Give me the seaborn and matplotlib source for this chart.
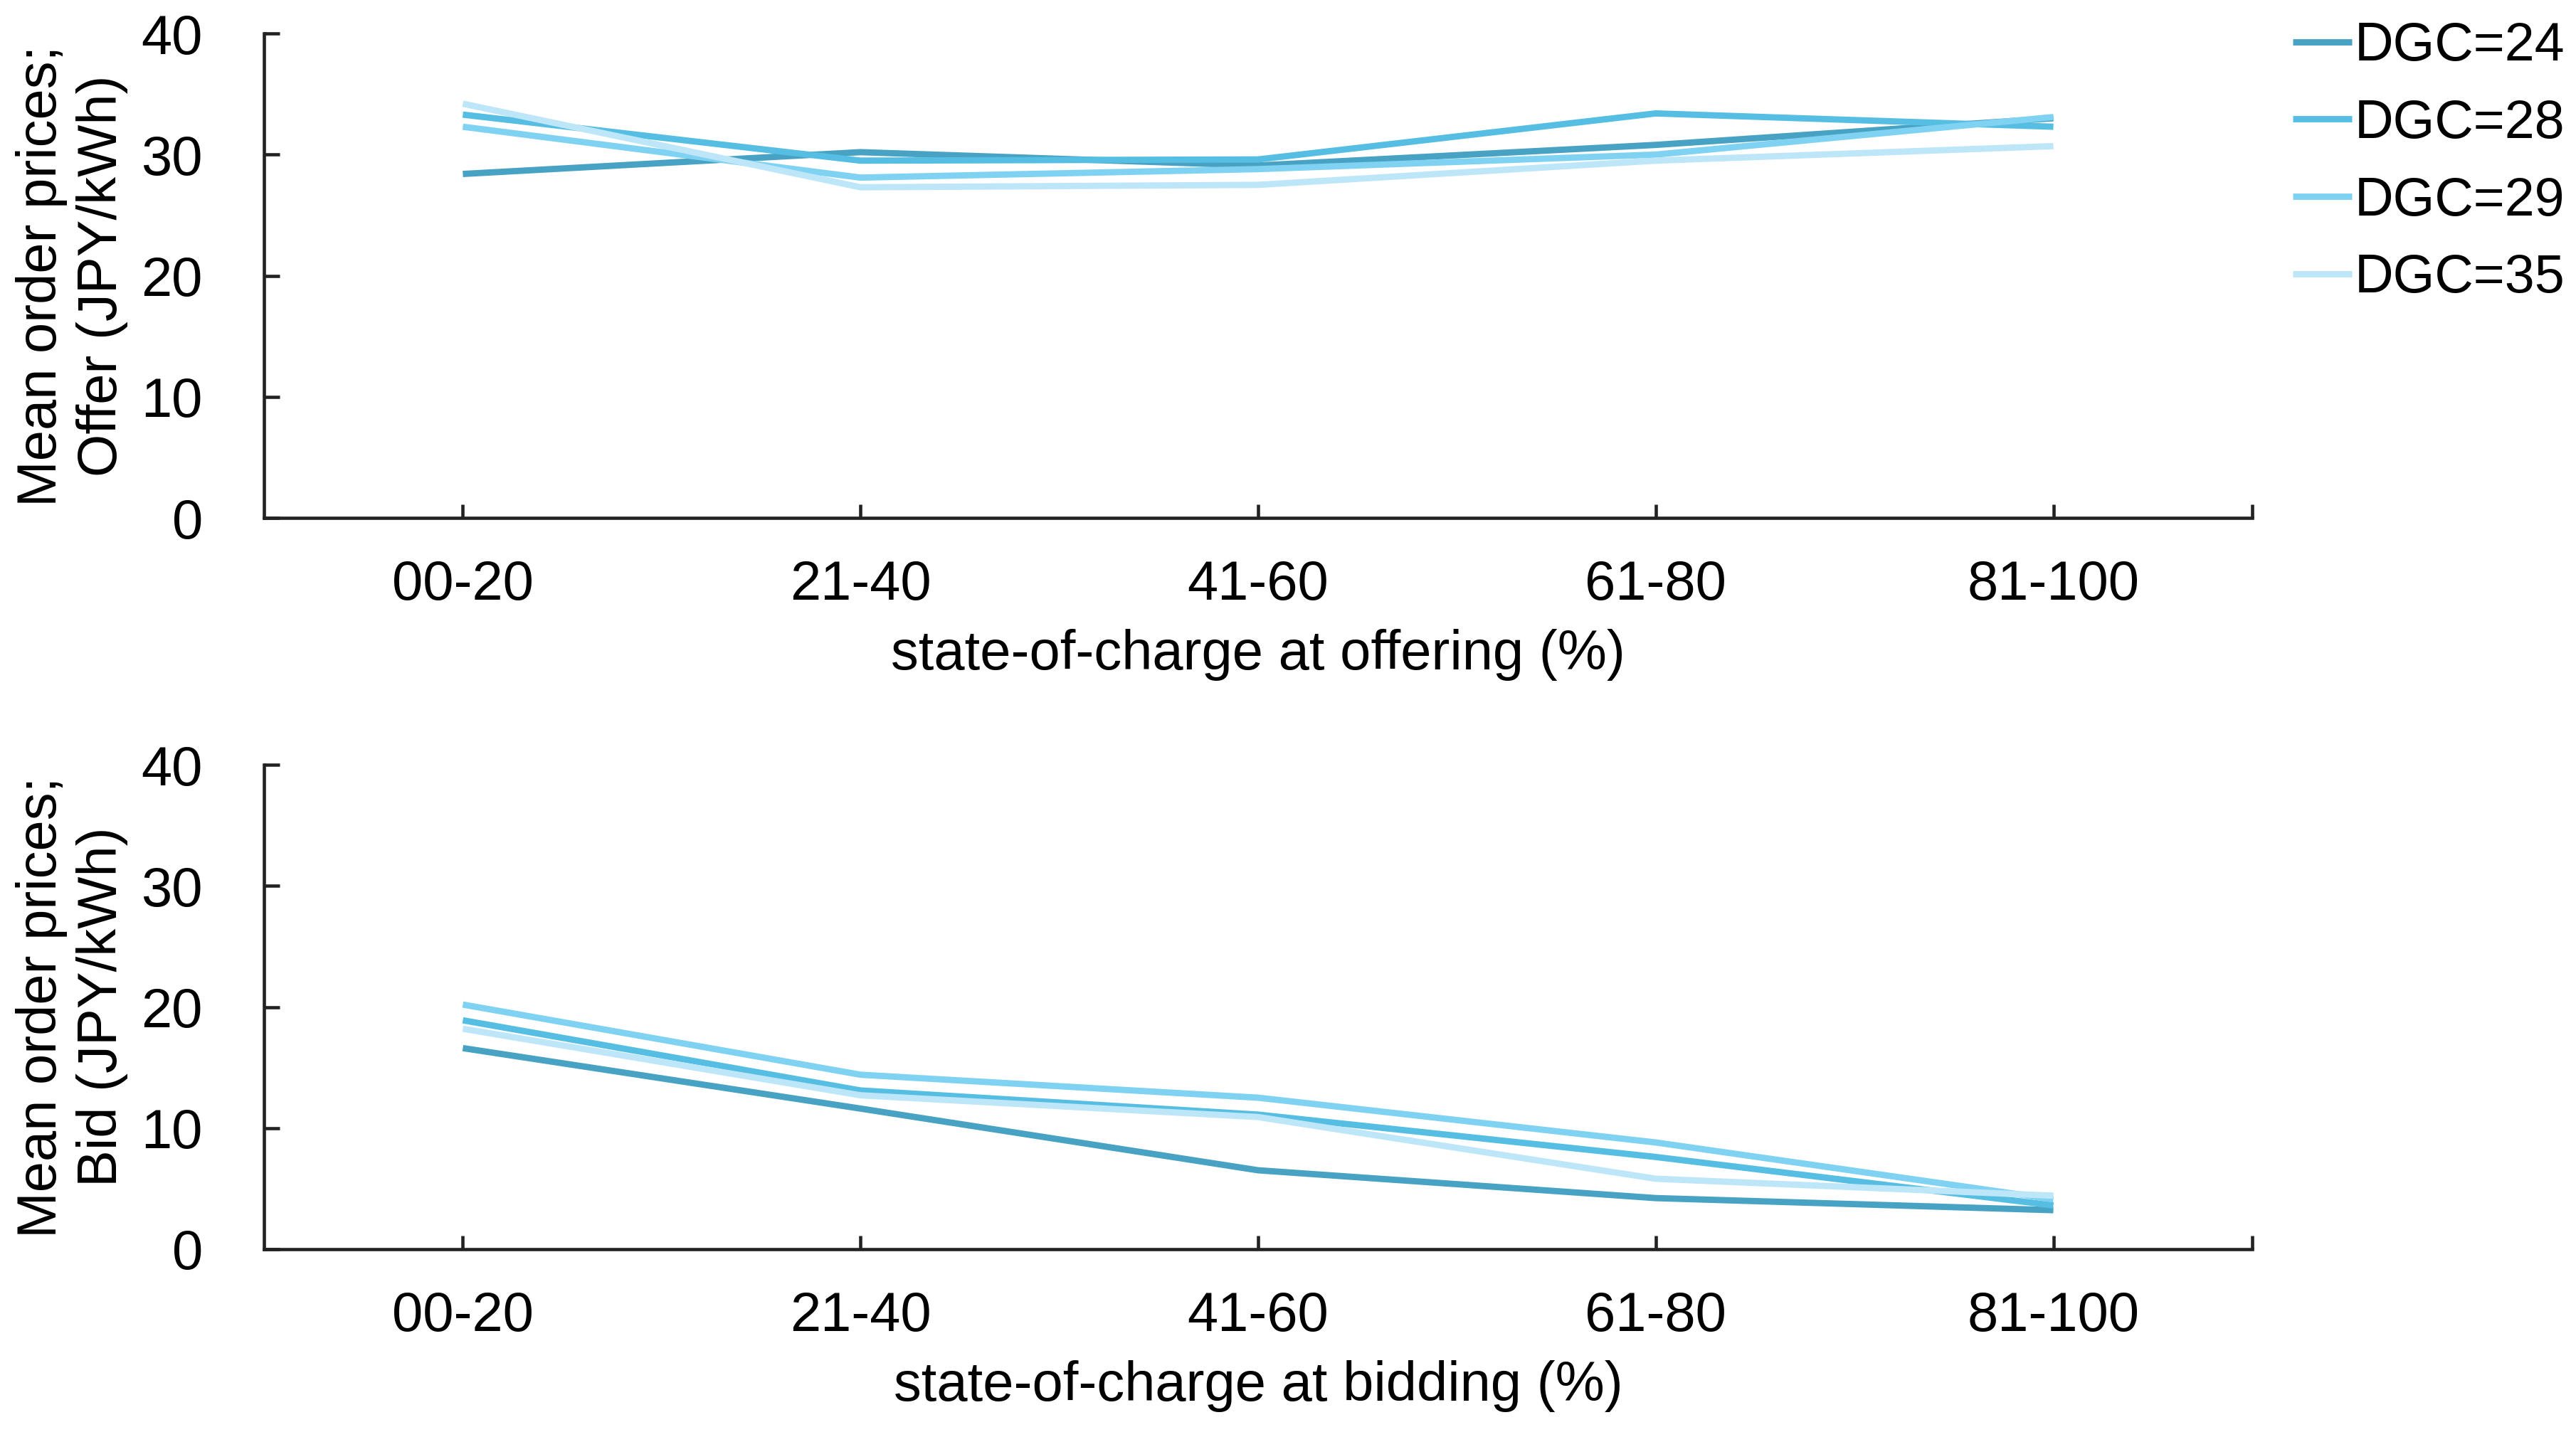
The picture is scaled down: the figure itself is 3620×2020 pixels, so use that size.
import matplotlib
matplotlib.use("Agg")
import matplotlib.pyplot as plt
import seaborn as sns
import pandas as pd

# ---- data ----
categories = ["00-20", "21-40", "41-60", "61-80", "81-100"]
series_names = ["DGC=24", "DGC=28", "DGC=29", "DGC=35"]
offer_dgc24 = [28.4, 30.2, 29.1, 30.8, 33.0]
offer_dgc28 = [33.3, 29.5, 29.6, 33.4, 32.3]
offer_dgc29 = [32.3, 28.1, 28.8, 30.0, 33.1]
offer_dgc35 = [34.2, 27.3, 27.5, 29.5, 30.7]
bid_dgc24 = [16.6, 11.6, 6.5, 4.2, 3.2]
bid_dgc28 = [18.9, 13.1, 11.1, 7.6, 3.6]
bid_dgc29 = [20.2, 14.4, 12.5, 8.8, 4.1]
bid_dgc35 = [18.2, 12.7, 10.9, 5.8, 4.4]
y_ticks = [0, 10, 20, 30, 40]
offer_xlabel = "state-of-charge at offering (%)"
bid_xlabel = "state-of-charge at bidding (%)"
offer_ylabel = "Mean order prices;\nOffer (JPY/kWh)"
bid_ylabel = "Mean order prices;\nBid (JPY/kWh)"

palette = ["#48A2C3", "#56BEE2", "#80D2F3", "#BDE6F9"]


def long_df(vals):
    rows = []
    for name, v in zip(series_names, vals):
        for i, (c, y) in enumerate(zip(categories, v)):
            rows.append({"pos": i, "cat": c, "DGC": name, "price": y})
    return pd.DataFrame(rows)


df_offer = long_df([offer_dgc24, offer_dgc28, offer_dgc29, offer_dgc35])
df_bid = long_df([bid_dgc24, bid_dgc28, bid_dgc29, bid_dgc35])

sns.set_style("white")
plt.rcParams["font.family"] = ["Liberation Sans", "DejaVu Sans"]
plt.rcParams["text.color"] = "black"
plt.rcParams["axes.labelcolor"] = "black"
plt.rcParams["xtick.color"] = "black"
plt.rcParams["ytick.color"] = "black"
FS = 28
LEG_FS = 27.2
spine_c = "#222222"
LW = 3.2

fig = plt.figure(figsize=(18.1, 10.1), dpi=200)
ax_top = fig.add_axes([0.1025, 0.6396, 0.7718, 0.3371])
ax_bot = fig.add_axes([0.1025, 0.1309, 0.7718, 0.3367])

for ax, df, xl, yl in [(ax_top, df_offer, offer_xlabel, offer_ylabel),
                       (ax_bot, df_bid, bid_xlabel, bid_ylabel)]:
    sns.lineplot(data=df, x="pos", y="price", hue="DGC", hue_order=series_names,
                 palette=palette, linewidth=LW, ax=ax, legend=(ax is ax_top),
                 solid_capstyle="butt")
    ax.set_xlim(-0.5, 4.5)
    ax.set_ylim(0, 40)
    ax.set_xticks(range(len(categories)))
    ax.set_xticklabels(categories)
    ax.set_xticks([4.5], minor=True)
    ax.set_yticks(y_ticks)
    ax.set_yticklabels([str(t) for t in y_ticks])
    for s in ["top", "right"]:
        ax.spines[s].set_visible(False)
    for s in ["left", "bottom"]:
        ax.spines[s].set_color(spine_c)
        ax.spines[s].set_linewidth(1.65)
    ax.tick_params(axis="x", which="both", direction="in", length=7, width=1.65,
                   color=spine_c, labelcolor="black", labelsize=FS, pad=21, bottom=True)
    ax.tick_params(axis="y", which="both", direction="in", length=8, width=1.65,
                   color=spine_c, labelcolor="black", labelsize=FS, pad=31, left=True)
    ax.set_xlabel(xl, fontsize=FS, labelpad=9, color="black")
    ax.set_ylabel(yl, fontsize=FS, ha="center", va="center", linespacing=1.2,
                  color="black")
    ax.yaxis.set_label_coords(-0.0966, 0.5)

leg = ax_top.legend(loc="upper left", bbox_to_anchor=(3222 / 3620, 1 - 30 / 2020),
                    bbox_transform=fig.transFigure, frameon=False, fontsize=LEG_FS,
                    handlelength=1.1, handletextpad=0.05, labelspacing=0.5,
                    borderpad=0, borderaxespad=0, title=None)
for h in leg.get_lines():
    h.set_linewidth(LW)
for t in leg.get_texts():
    t.set_color("black")

fig.savefig("out.png", dpi=200, facecolor="white")
